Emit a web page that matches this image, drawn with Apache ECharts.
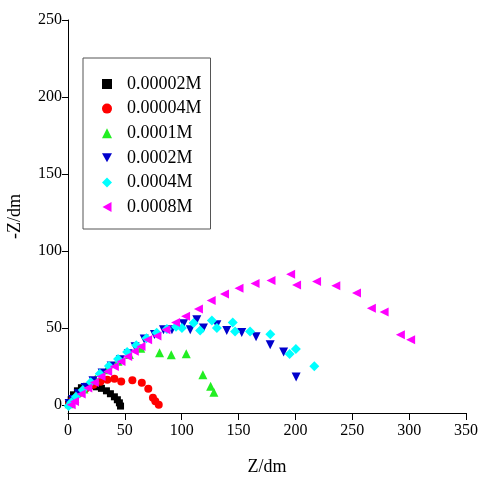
<!DOCTYPE html>
<html>
<head>
<meta charset="utf-8">
<script src="https://cdn.jsdelivr.net/npm/echarts@6/dist/echarts.min.js"></script>
<style>
  html, body { margin: 0; padding: 0; background: #fff; }
  #chart { width: 485px; height: 477px; }
</style>
</head>
<body>
<div id="chart"></div>
<script>
// Nyquist data, [Z', -Z''] in ohm
const names = ['0.00002M', '0.00004M', '0.0001M', '0.0002M', '0.0004M', '0.0008M'];
const yTicks = [0, 50, 100, 150, 200, 250];

const black = [[0.5, 0.8], [2.8, 3.6], [4.8, 6.8], [8.3, 9.4], [11.8, 11.4], [16.2, 12.3], [20.6, 12.7],
  [25, 12], [29.4, 11], [33.8, 9.4], [37.3, 7.5], [40.8, 5.5], [43.4, 3.6], [45.2, 1.6], [46.2, -0.5]];
const red = [[1, 1], [3.9, 3.6], [9.2, 7.5], [15.4, 10.7], [22.4, 13.3], [28.5, 15.3], [34.6, 16.6],
  [40.8, 17.2], [46.8, 15.4], [56.6, 16.2], [64.9, 14.6], [70.6, 10.7], [74.7, 4.9], [76.8, 2.6], [79.8, 0.3]];
const green = [[1, 1], [6, 4.5], [14, 10.5], [24, 17], [34, 23], [44, 28.5], [54, 33], [64, 37],
  [80.5, 34.1], [90.8, 32.8], [104, 33.4], [118.6, 19.8], [125.4, 12.3], [128.3, 8.4]];
const blue = [[1, 1.2], [4, 3.8], [9, 7.5], [15, 11.5], [22, 16], [30, 21], [38, 25.5], [46, 29.5],
  [53, 33.5], [59, 38], [67, 43], [76, 46], [84, 49], [91.4, 49], [101.6, 52.9], [107.5, 49],
  [113.3, 55.5], [119.1, 50.1], [130.9, 52.3], [139.6, 48.6], [152.8, 47.3], [165.4, 44.5],
  [177.8, 39.3], [189.6, 34.6], [200.6, 18.3]];
const cyan = [[0.5, -0.5], [3, 2], [7, 5.5], [13, 10], [20, 15], [28, 20.5], [36, 25.5], [44, 30],
  [52, 34.5], [60, 39], [69, 43.5], [78, 47], [87, 49.5], [95, 51], [100.2, 50.1], [110.4, 53.4],
  [116.2, 48.6], [126.5, 55], [130.9, 50.1], [144.9, 53.8], [146.9, 47.9], [160.1, 47.9],
  [177.9, 46.1], [194.9, 33.3], [200.4, 36.5], [216.6, 25.4]];
const magenta = [[2.8, 0.3], [5.7, 2.5], [11.6, 7.3], [17.4, 11.2], [23.2, 14.8], [29.1, 18.7],
  [34.9, 22], [40.8, 25.2], [46.6, 28.4], [52.5, 31.7], [58.3, 35], [64.2, 38.2], [70, 42.5],
  [78.2, 45], [86.1, 49], [94.6, 53.8], [103.4, 57.8], [114.7, 62.5], [125.9, 68], [137.6, 72.2],
  [150.4, 76], [164.5, 79], [178.5, 81], [195.8, 85], [201, 78], [218.6, 80.4], [235.5, 77.6],
  [253.7, 72.8], [266.8, 63], [278, 60.5], [292.3, 45.8], [301.3, 42.5]];

const font = 'Liberation Serif';
const triDown = 'path://M0,0L10,0L5,9Z';
const triLeft = 'path://M9,0L9,10L0,5Z';

const chart = echarts.init(document.getElementById('chart'));

const mk = (name, data, color, symbol, size) => ({
  name, type: 'scatter', data,
  symbol, symbolSize: size,
  itemStyle: { color, opacity: 1 },
  emphasis: { disabled: true },
  animation: false
});

chart.setOption({
  backgroundColor: '#fff',
  grid: { left: 68, right: 19, top: 20, bottom: 64, containLabel: false, outerBoundsMode: 'none' },
  legend: {
    orient: 'vertical',
    left: 83, top: 58,
    padding: [17, 9, 13, 19],
    itemWidth: 10, itemHeight: 10,
    itemGap: 6.6,
    borderColor: '#555', borderWidth: 1,
    textStyle: { fontFamily: font, fontSize: 18, color: '#000', padding: [0, 0, 0, 10], lineHeight: 18 },
    data: names
  },
  xAxis: {
    type: 'value', min: 0, max: 350, interval: 50,
    name: 'Z/dm', nameLocation: 'middle', nameGap: 45,
    nameTextStyle: { fontFamily: font, fontSize: 18, color: '#000' },
    axisLine: { show: true, onZero: false, lineStyle: { color: '#000', width: 1 } },
    axisTick: { show: true, length: 7, lineStyle: { color: '#000' } },
    axisLabel: { fontFamily: font, fontSize: 16, color: '#000', margin: 10 },
    splitLine: { show: false }
  },
  yAxis: {
    type: 'value', min: -5, max: 250,
    name: '-Z/dm', nameLocation: 'middle', nameGap: 44, nameRotate: 90,
    nameTextStyle: { fontFamily: font, fontSize: 18, color: '#000' },
    axisLine: { show: true, onZero: false, lineStyle: { color: '#000', width: 1 } },
    axisTick: { show: true, length: 6, customValues: yTicks, lineStyle: { color: '#000' } },
    axisLabel: { fontFamily: font, fontSize: 16, color: '#000', margin: 6, customValues: yTicks },
    splitLine: { show: false }
  },
  series: [
    mk(names[0], black, '#000000', 'rect', 7),
    mk(names[1], red, '#ff0000', 'circle', 8),
    mk(names[2], green, '#22ee22', 'triangle', 9),
    mk(names[3], blue, '#0000cc', triDown, 9),
    mk(names[4], cyan, '#00ffff', 'diamond', 10),
    mk(names[5], magenta, '#ff00ff', triLeft, 9)
  ]
});

window.onresize = () => chart.resize();
</script>
</body>
</html>
